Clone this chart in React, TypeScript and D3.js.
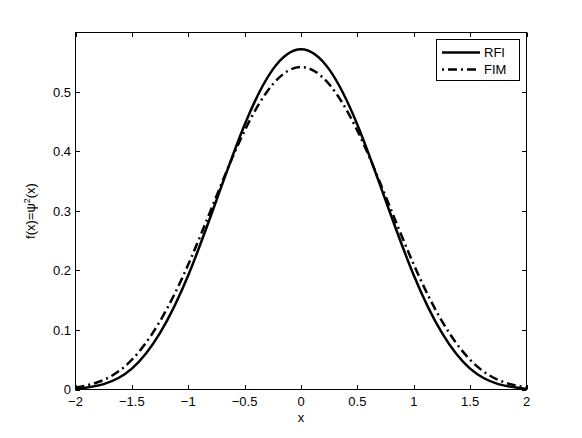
import React from "react";
import * as d3 from "d3";

const xs = [-2, -1.75, -1.5, -1.25, -1, -0.75, -0.5, -0.25, 0, 0.25, 0.5, 0.75, 1, 1.25, 1.5, 1.75, 2];
const rfi = [0.001, 0.009, 0.035, 0.095, 0.192, 0.318, 0.445, 0.538, 0.572, 0.538, 0.445, 0.318, 0.192, 0.095, 0.035, 0.009, 0.001];
const fim = [0.003, 0.016, 0.05, 0.115, 0.21, 0.325, 0.435, 0.513, 0.542, 0.513, 0.435, 0.325, 0.21, 0.115, 0.05, 0.016, 0.003];
const xTicks = [-2, -1.5, -1, -0.5, 0, 0.5, 1, 1.5, 2];
const yTicks = [0, 0.1, 0.2, 0.3, 0.4, 0.5];
const seriesNames = ["RFI", "FIM"];

const W = 582, H = 438;
const L = 75.5, R = 526.5, T = 32.5, B = 389.5;

export default function App() {
  const x = d3.scaleLinear().domain([-2, 2]).range([L, R]);
  const y = d3.scaleLinear().domain([0, 0.6]).range([B, T]);
  const line = d3
    .line<number>()
    .x((_, i) => x(xs[i]))
    .y((d) => y(d))
    .curve(d3.curveNatural);
  const font = "'Liberation Sans', Arial, Helvetica, sans-serif";
  const tl = 4.5;
  const fs = 13;
  const fmt = (v: number) => (v < 0 ? "\u2212" + String(-v) : String(v));
  return (
    <svg width={W} height={H} style={{ position: "absolute", left: 0, top: 0, background: "#fff" }} fontFamily={font}>
      <rect x={0} y={0} width={W} height={H} fill="#fff" />
      <defs>
        <clipPath id="clip">
          <rect x={L} y={T} width={R - L} height={B - T} />
        </clipPath>
      </defs>
      <g clipPath="url(#clip)">
        <path d={line(rfi) || ""} fill="none" stroke="#000" strokeWidth={2.5} />
        <path d={line(fim) || ""} fill="none" stroke="#000" strokeWidth={2.5} strokeDasharray="9,4,2,4" />
      </g>
      <rect x={L} y={T} width={R - L} height={B - T} fill="none" stroke="#000" strokeWidth={1} />
      {xTicks.map((t) => (
        <g key={"x" + t}>
          <line x1={Math.round(x(t)) + 0.5} x2={Math.round(x(t)) + 0.5} y1={B} y2={B - tl} stroke="#000" />
          <line x1={Math.round(x(t)) + 0.5} x2={Math.round(x(t)) + 0.5} y1={T} y2={T + tl} stroke="#000" />
          <text x={x(t)} y={406} fontSize={fs} textAnchor="middle">{fmt(t)}</text>
        </g>
      ))}
      {yTicks.map((t) => (
        <g key={"y" + t}>
          <line x1={L} x2={L + tl} y1={Math.round(y(t)) + 0.5} y2={Math.round(y(t)) + 0.5} stroke="#000" />
          <line x1={R} x2={R - tl} y1={Math.round(y(t)) + 0.5} y2={Math.round(y(t)) + 0.5} stroke="#000" />
          <text x={71} y={y(t) + 4.5} fontSize={fs} textAnchor="end">{fmt(t)}</text>
        </g>
      ))}
      <text x={(L + R) / 2} y={422} fontSize={fs} textAnchor="middle">x</text>
      <text transform={`translate(35,${(T + B) / 2}) rotate(-90)`} fontSize={fs} textAnchor="middle">
        f(x)=ψ<tspan fontSize={9} dy={-5}>2</tspan><tspan dy={5}>(x)</tspan>
      </text>
      <g>
        <rect x={436.5} y={39.5} width={83} height={41} fill="#fff" stroke="#000" />
        <line x1={442} x2={480} y1={52.5} y2={52.5} stroke="#000" strokeWidth={2.5} />
        <line x1={442} x2={480} y1={69.5} y2={69.5} stroke="#000" strokeWidth={2.5} strokeDasharray="2,4,9,4" />
        <text x={484} y={57} fontSize={fs}>{seriesNames[0]}</text>
        <text x={484} y={74} fontSize={fs}>{seriesNames[1]}</text>
      </g>
    </svg>
  );
}
